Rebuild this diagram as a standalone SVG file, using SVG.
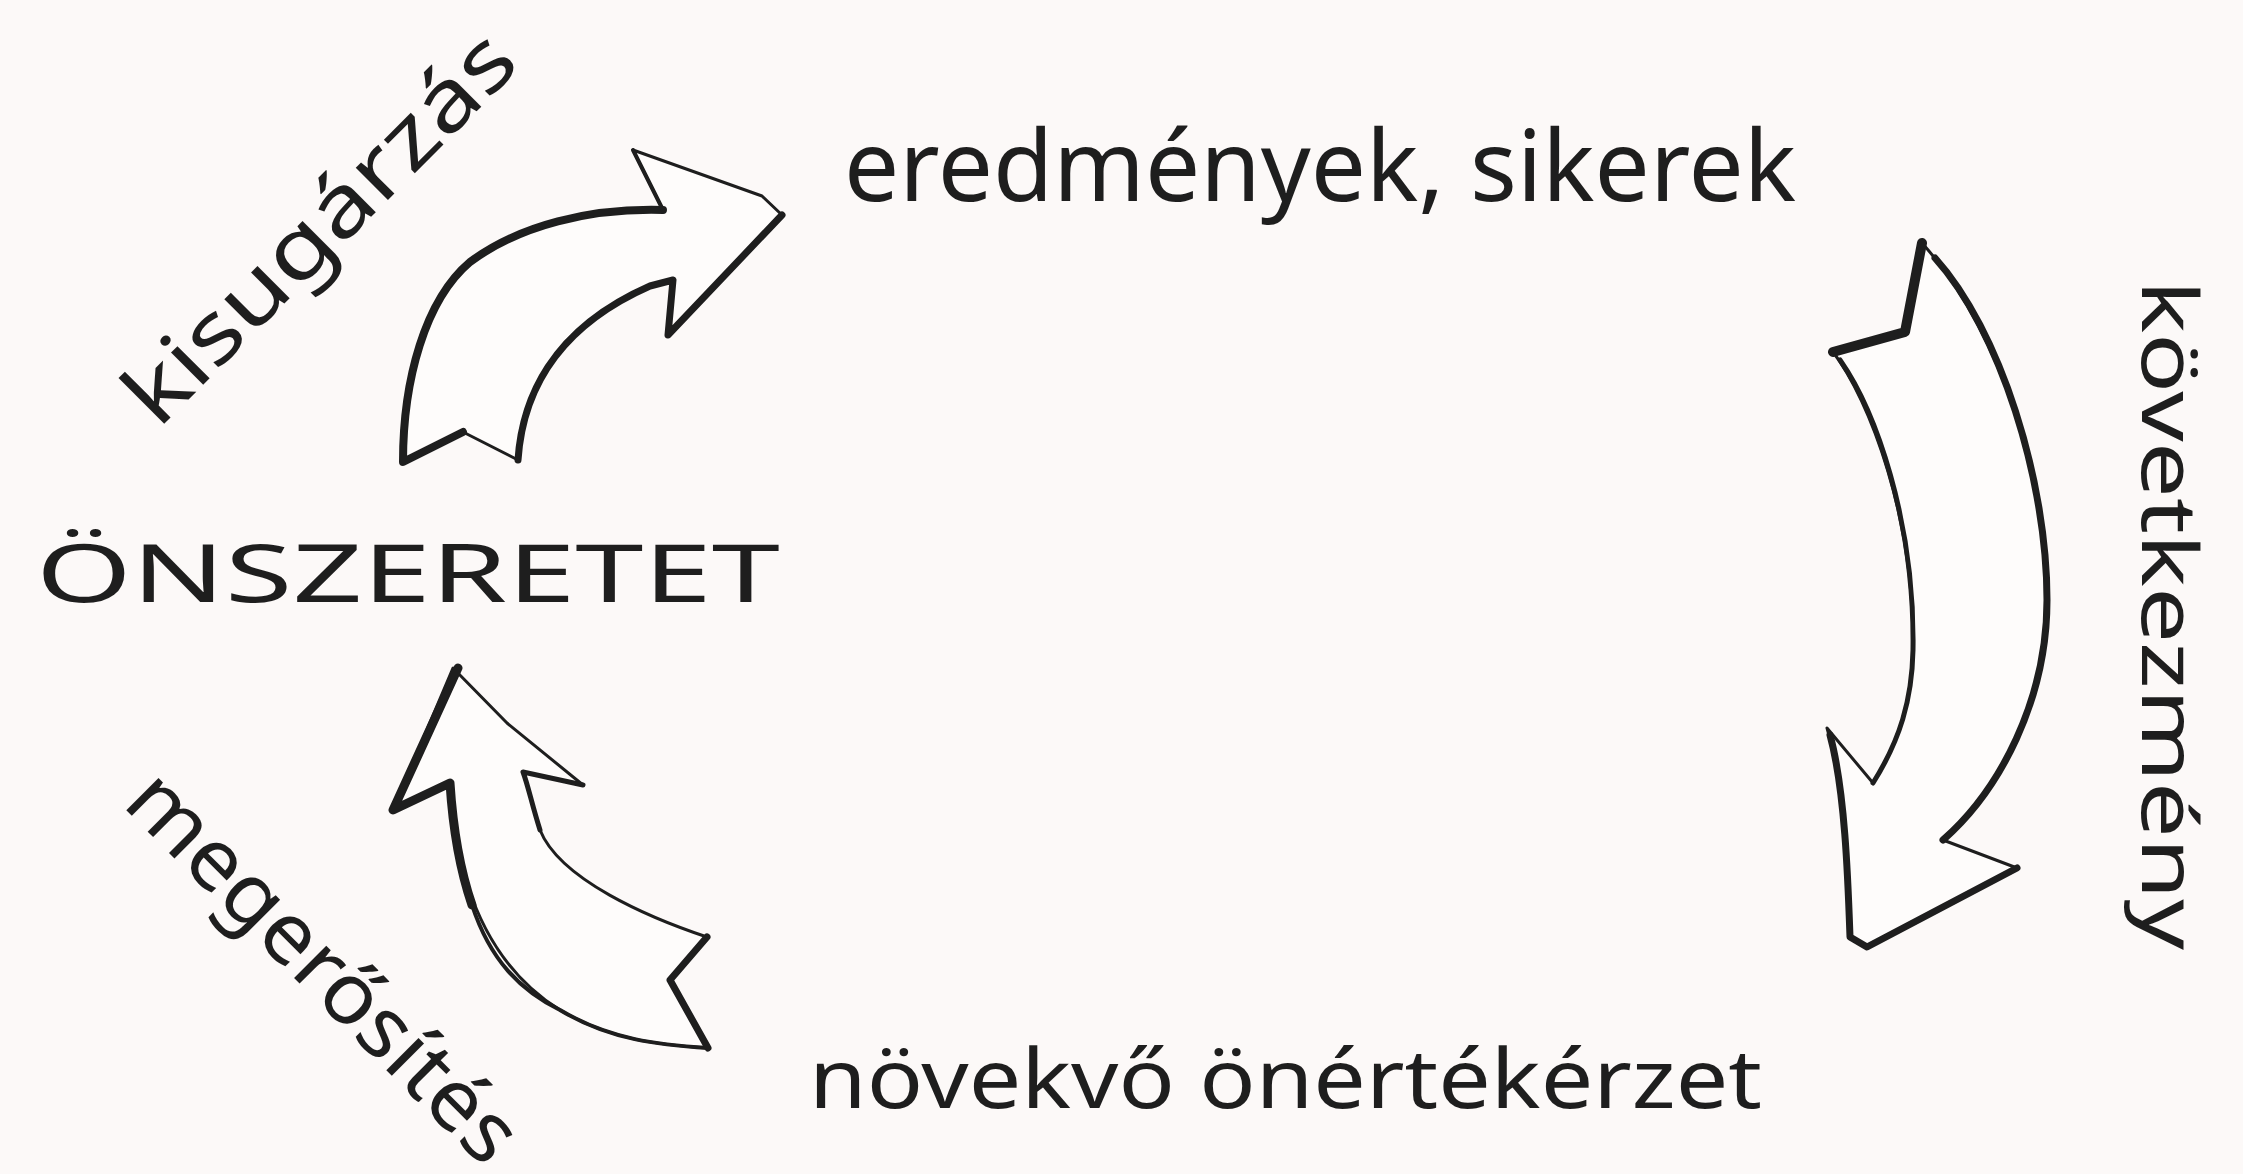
<svg xmlns="http://www.w3.org/2000/svg" width="2243" height="1174" viewBox="0 0 2243 1174">
<style>
.t{font-family:"Noto Sans","DejaVu Sans",sans-serif;fill:#1e1e1e}
.a{fill:#fefcfb;stroke:#1e1e1e;stroke-width:3;stroke-linejoin:round}
.k{fill:none;stroke:#1e1e1e;stroke-linecap:round;stroke-linejoin:round}
</style>
<rect width="2243" height="1174" fill="#fcf9f8"/>
<g id="connectors">
<g id="arrow-kisugarzas">
<path class="a" d="M403,462 L463,432 L518,460 C522,400 550,330 650,286 L673,280 L668,335 L782,215 L762,196 L633,150 L663,210 C590,208 520,225 470,262 C425,300 403,380 403,462 Z"/>
<path class="k" stroke-width="8" d="M663,210 C590,208 520,225 470,262 C425,300 403,380 403,462 L463,432"/>
<path class="k" stroke-width="7" d="M518,460 C522,400 550,330 650,286 L673,280 L668,335 L782,215"/>
<path class="k" stroke-width="4" d="M633,150 L663,210"/>
</g>
<g id="arrow-megerosites">
<path class="a" d="M453,668 L393,810 L450,783 C455,870 480,960 560,1010 C610,1040 660,1045 708,1048 L670,980 L707,937 C650,918 560,880 540,830 C532,805 528,785 523,772 L583,785 L507,723 L453,668 Z"/>
<path class="k" stroke-width="9" d="M458,668 L393,810 L450,783 C453,830 460,870 472,905"/>
<path class="k" stroke-width="4" d="M472,905 C490,960 520,990 560,1010 C610,1040 660,1045 708,1048"/>
<path class="k" stroke-width="7" d="M708,1048 L670,980 L707,937"/>
<path class="k" stroke-width="5" d="M540,830 C532,805 528,785 523,772 L583,785"/>
</g>
<g id="arrow-kovetkezmeny">
<path class="a" d="M1922,243 L1905,332 L1833,352 C1870,400 1915,520 1913,650 C1912,700 1900,740 1873,783 L1827,728 C1845,790 1848,880 1850,937 L1867,947 L2017,868 L1943,840 C2000,790 2047,700 2047,600 C2047,480 2000,330 1922,243 Z"/>
<path class="k" stroke-width="10" d="M1922,243 L1905,332 L1833,352"/>
<path class="k" stroke-width="5" d="M1840,360 C1875,410 1915,520 1913,650 C1912,700 1900,740 1873,783"/>
<path class="k" stroke-width="7" d="M1830,735 C1845,790 1848,880 1850,937 L1867,947 L2017,868"/>
<path class="k" stroke-width="7" d="M1943,840 C2000,790 2047,700 2047,600 C2047,480 2000,330 1935,258"/>
</g>
</g>
<g id="node-onszeretet"><text class="t" x="36" y="602" font-size="80" textLength="744" lengthAdjust="spacingAndGlyphs">ÖNSZERETET</text></g>
<g id="node-eredmenyek"><text class="t" x="844" y="201" font-size="98" textLength="952" lengthAdjust="spacingAndGlyphs">eredmények, sikerek</text></g>
<g id="node-novekvo"><text class="t" x="809" y="1108" font-size="82" textLength="953" lengthAdjust="spacingAndGlyphs">növekvő önértékérzet</text></g>
<g id="label-kisugarzas"><text class="t" transform="translate(158,430) rotate(-45)" font-size="85" textLength="515" lengthAdjust="spacingAndGlyphs">kisugárzás</text></g>
<g id="label-megerosites"><text class="t" transform="translate(121,805) rotate(45)" font-size="85" textLength="515" lengthAdjust="spacingAndGlyphs">megerősítés</text></g>
<g id="label-kovetkezmeny"><text class="t" transform="translate(2142,280) rotate(90)" font-size="76" textLength="670" lengthAdjust="spacingAndGlyphs">következmény</text></g>
</svg>
